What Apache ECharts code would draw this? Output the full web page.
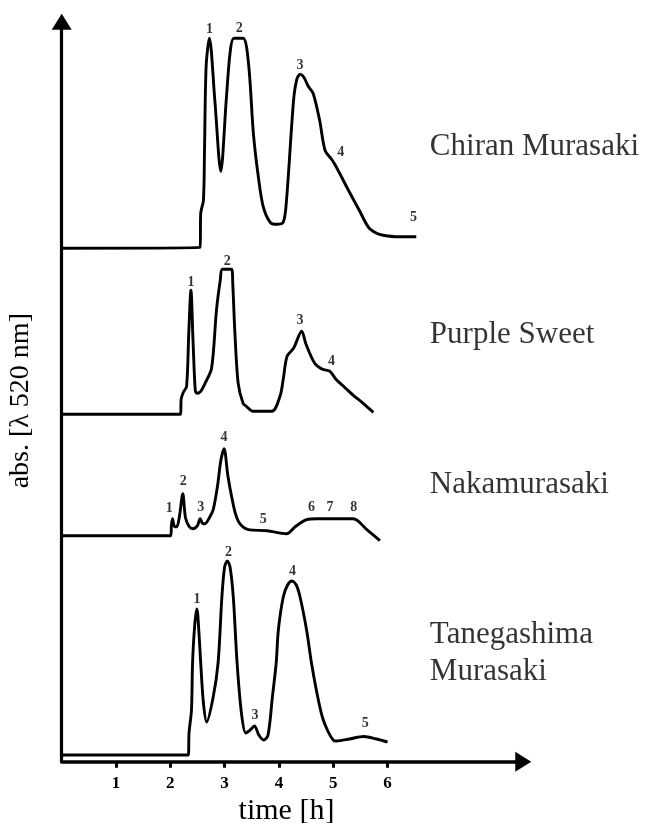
<!DOCTYPE html>
<html>
<head>
<meta charset="utf-8">
<script src="https://cdn.jsdelivr.net/npm/echarts@6/dist/echarts.min.js"></script>
<style>html,body{margin:0;padding:0;background:#fff;}#c{width:654px;height:823px;}</style>
</head>
<body>
<div id="c"></div>
<script>
// Time axis ticks [h]
const timeTicks = [1, 2, 3, 4, 5, 6];

// Trace names
const traceNames = ['Chiran Murasaki', 'Purple Sweet', 'Nakamurasaki', 'Tanegashima\nMurasaki'];
// Vertical offset (stacking) of each trace baseline, arbitrary absorbance units
const traceOffsets = [51.34, 34.74, 22.6, 0.67];

// [time h, absorbance above own baseline]
const chiran = [[0,0],[2.55,0.1],[2.56,3.5],[2.61,4.8],[2.63,9.8],[2.66,18.2],[2.72,21.0],[2.82,14.8],[2.93,7.7],[3.03,14.8],[3.10,19.5],[3.17,21.0],[3.34,21.0],[3.44,18.5],[3.53,11.5],[3.62,7.2],[3.71,4.2],[3.84,2.6],[3.96,2.4],[4.08,2.6],[4.14,4.8],[4.27,14.8],[4.33,16.9],[4.39,17.4],[4.46,17.1],[4.54,16.2],[4.63,15.5],[4.75,12.8],[4.85,9.8],[4.97,8.9],[5.05,8.2],[5.31,5.5],[5.48,3.8],[5.65,2.1],[5.80,1.5],[5.92,1.3],[6.20,1.15],[6.53,1.15]];
const purpleSweet = [[0,0],[2.19,0],[2.20,1.5],[2.24,2.2],[2.30,2.8],[2.34,8.1],[2.38,12.4],[2.42,7.1],[2.46,2.4],[2.49,2.1],[2.56,2.3],[2.64,3.1],[2.76,4.6],[2.85,10.4],[2.92,13.4],[2.96,14.5],[3.13,14.5],[3.15,13.1],[3.19,8.1],[3.25,3.1],[3.34,1.1],[3.40,0.8],[3.52,0.3],[3.87,0.3],[4.02,1.8],[4.08,3.5],[4.15,5.8],[4.27,6.6],[4.42,8.3],[4.50,7.0],[4.66,5.1],[4.80,4.5],[4.94,4.3],[5.05,3.5],[5.19,2.8],[5.37,1.9],[5.55,1.1],[5.74,0.2]];
const nakamurasaki = [[0,0],[2.01,0],[2.02,1.0],[2.04,1.7],[2.08,0.9],[2.12,0.9],[2.17,2.0],[2.23,4.2],[2.28,1.8],[2.35,0.9],[2.42,0.7],[2.50,1.0],[2.55,1.7],[2.60,1.2],[2.64,1.2],[2.72,1.8],[2.79,2.6],[2.87,5.0],[2.93,7.5],[2.99,8.7],[3.06,6.0],[3.13,3.9],[3.20,2.2],[3.28,1.2],[3.44,0.6],[3.78,0.5],[4.14,0.2],[4.30,0.9],[4.51,1.6],[4.70,1.7],[5.37,1.7],[5.62,0.6],[5.86,-0.5]];
const tanegashima = [[0,0],[2.33,0],[2.345,2.2],[2.39,4.5],[2.41,9.2],[2.45,13.0],[2.49,14.6],[2.53,12.0],[2.56,9.2],[2.61,5.2],[2.67,3.3],[2.79,5.8],[2.88,9.2],[2.95,15.8],[3.00,18.8],[3.05,19.4],[3.10,18.8],[3.16,15.8],[3.23,9.2],[3.31,4.2],[3.39,2.2],[3.47,2.5],[3.55,2.9],[3.63,2.0],[3.72,1.5],[3.80,2.0],[3.88,5.8],[3.95,9.2],[3.99,12.5],[4.08,15.8],[4.16,17.0],[4.24,17.4],[4.32,17.0],[4.39,15.8],[4.51,12.5],[4.60,9.2],[4.70,6.2],[4.80,3.8],[4.90,2.4],[5.00,1.5],[5.06,1.4],[5.30,1.6],[5.56,1.85],[5.80,1.6],[6.00,1.3]];

// Peak number labels: [time, height above baseline, text]
const chiranPeaks = [[2.72,21.9,'1'],[3.27,22.0,'2'],[4.39,18.3,'3'],[5.14,9.6,'4'],[6.48,3.1,'5']];
const purplePeaks = [[2.38,13.2,'1'],[3.05,15.3,'2'],[4.39,9.4,'3'],[4.97,5.3,'4']];
const nakaPeaks = [[1.98,2.7,'1'],[2.24,5.4,'2'],[2.56,2.8,'3'],[2.99,9.8,'4'],[3.71,1.6,'5'],[4.60,2.8,'6'],[4.94,2.8,'7'],[5.38,2.8,'8']];
const tanePeaks = [[2.49,15.6,'1'],[3.07,20.3,'2'],[3.56,4.0,'3'],[4.25,18.4,'4'],[5.59,3.2,'5']];

// Name label anchor: [time, height above own baseline]
const nameAnchors = [[6.78, 10.13], [6.78, 7.93], [6.78, 5.07], [6.78, 10.15]];

const traces = [chiran, purpleSweet, nakamurasaki, tanegashima];
const peaks = [chiranPeaks, purplePeaks, nakaPeaks, tanePeaks];

const serif = '"Liberation Serif", "Times New Roman", serif';
const ink = '#000';
const series = [];
traces.forEach((tr, i) => {
  const off = traceOffsets[i];
  series.push({
    type: 'line',
    data: tr.map(p => [p[0], +(p[1] + off).toFixed(3)]),
    showSymbol: false,
    smooth: 0.3,
    lineStyle: { color: ink, width: 2.9, join: 'round' },
    silent: true,
    z: 3
  });
  series.push({
    type: 'scatter',
    symbolSize: 0,
    data: peaks[i].map(p => ({ value: [p[0], p[1] + off], label: { formatter: p[2] } })),
    label: { show: true, position: 'inside', color: ink, fontFamily: serif, fontWeight: 'bold', fontSize: 14 },
    silent: true,
    z: 4
  });
  series.push({
    type: 'scatter',
    symbolSize: 0,
    data: [{ value: [nameAnchors[i][0], nameAnchors[i][1] + off], label: { formatter: traceNames[i] } }],
    label: { show: true, position: 'right', distance: 0, color: ink, fontFamily: serif, fontSize: 31, lineHeight: 37, align: 'left' },
    silent: true,
    z: 4
  });
});

const chart = echarts.init(document.getElementById('c'), null, { renderer: 'canvas' });
chart.setOption({
  animation: false,
  backgroundColor: '#fff',
  grid: { left: 61.7, width: 461.55, top: 21.7, height: 740, containLabel: false, outerBoundsMode: 'none' },
  xAxis: {
    type: 'value', min: 0, max: 8.5, interval: 1,
    name: 'time [h]', nameLocation: 'middle', nameGap: 30,
    nameTextStyle: { fontFamily: serif, fontSize: 30, color: ink, padding: [0, 12, 0, 0] },
    axisLine: { show: true, onZero: false, symbol: ['none', 'triangle'], symbolSize: [20, 16], lineStyle: { color: ink, width: 3.5 } },
    axisTick: { show: true, length: 6, customValues: timeTicks, lineStyle: { color: ink, width: 3 } },
    axisLabel: { show: true, margin: 13, customValues: timeTicks, fontFamily: serif, fontWeight: 'bold', fontSize: 17, color: ink },
    splitLine: { show: false }
  },
  yAxis: {
    type: 'value', min: 0, max: 74,
    name: 'abs. [λ 520 nm]', nameLocation: 'middle', nameGap: 27, nameRotate: 90,
    nameTextStyle: { fontFamily: serif, fontSize: 28, color: ink, padding: [0, 18, 0, 0] },
    axisLine: { show: true, onZero: false, symbol: ['none', 'triangle'], symbolSize: [20, 16], lineStyle: { color: ink, width: 3.2 } },
    axisTick: { show: false },
    axisLabel: { show: false },
    splitLine: { show: false }
  },
  series: series
});
</script>
</body>
</html>
